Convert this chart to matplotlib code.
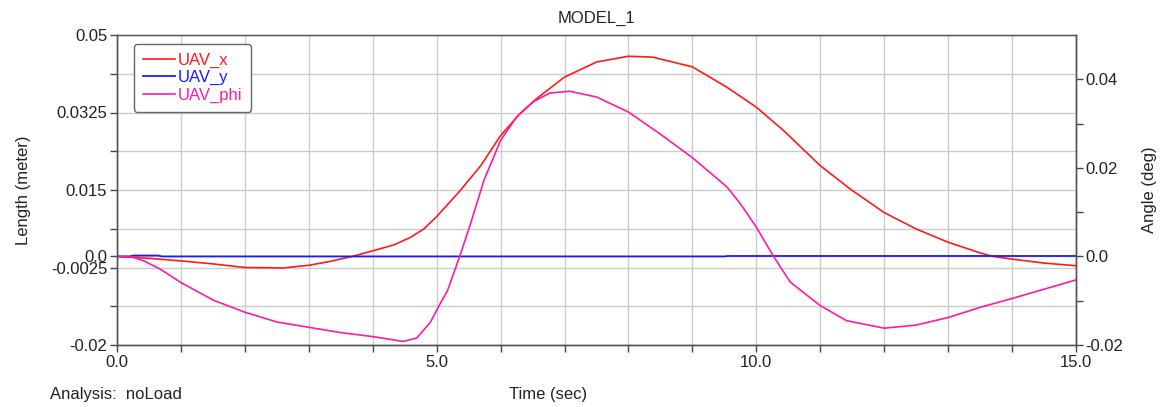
import matplotlib.pyplot as plt
from matplotlib.ticker import MultipleLocator, FixedLocator

plt.rcParams['font.family'] = ['Liberation Sans', 'DejaVu Sans']

# UAV_x (Length, meter)
t_x = [0.0, 0.52, 0.99, 1.51, 2.0, 2.6, 3.0, 3.34, 3.68, 4.01, 4.33, 4.59, 4.8, 5.0,
       5.37, 5.69, 6.0, 6.3, 6.56, 7.0, 7.5, 8.0, 8.38, 9.0, 9.54, 10.0, 10.42, 11.0,
       11.46, 12.0, 12.5, 13.0, 13.5, 13.7, 14.0, 14.5, 15.0]
uav_x = [0.0, -0.00045, -0.001, -0.0017, -0.0025, -0.0026, -0.002, -0.0011, 0.0, 0.0013,
         0.0026, 0.0043, 0.0062, 0.0090, 0.0149, 0.0205, 0.0273, 0.0322, 0.0356, 0.0405,
         0.0439, 0.0452, 0.0450, 0.0428, 0.0382, 0.0337, 0.0285, 0.0205, 0.0153, 0.0099,
         0.0062, 0.0032, 0.0008, 0.0, -0.0006, -0.0015, -0.0021]

# UAV_y (Length, meter)
t_y = [0.0, 0.2, 0.25, 0.65, 0.7, 9.5, 9.55, 15.0]
uav_y = [0.0, 0.0, 0.0002, 0.0002, 0.0, 0.0, 0.0001, 0.0001]

# UAV_phi (Angle, deg)
t_phi = [0.0, 0.21, 0.42, 0.68, 1.0, 1.51, 2.0, 2.5, 3.0, 3.5, 4.0, 4.48, 4.69, 4.9,
         5.08, 5.17, 5.36, 5.53, 5.74, 6.0, 6.25, 6.51, 6.77, 7.08, 7.5, 8.0, 8.49, 9.0,
         9.54, 9.75, 10.0, 10.27, 10.53, 11.0, 11.41, 12.0, 12.5, 13.0, 13.5, 14.0,
         14.5, 15.0]
uav_phi = [0.0, 0.0, -0.001, -0.0029, -0.0059, -0.0099, -0.0126, -0.0148, -0.016,
           -0.0172, -0.0181, -0.0192, -0.0184, -0.0149, -0.0100, -0.0077, 0.0, 0.0074,
           0.0172, 0.0262, 0.0315, 0.0349, 0.0369, 0.0373, 0.0360, 0.0326, 0.0277, 0.0223,
           0.0157, 0.0119, 0.0066, 0.0, -0.0058, -0.0111, -0.0145, -0.0162, -0.0155,
           -0.0138, -0.0115, -0.0095, -0.0074, -0.0053]

left_major = [-0.02, -0.0025, 0.015, 0.0325, 0.05]
left_extra = [0.0]
left_minor = [-0.01125, 0.00625, 0.02375, 0.04125]
right_major = [-0.02, 0.0, 0.02, 0.04]
right_minor = [-0.01, 0.01, 0.03]

red = '#ff1a1a'
blue = '#1a1aff'
pink = '#ff1aa8'
fs = 12

fig = plt.figure(figsize=(11.64, 4.07), dpi=100)
ax = fig.add_axes([117/1164, 62/407, 959/1164, 310/407])
ax2 = ax.twinx()

l1, = ax.plot(t_x, uav_x, color=red, lw=1.2, solid_joinstyle='round')
l2, = ax.plot(t_y, uav_y, color=blue, lw=1.3)
l3, = ax2.plot(t_phi, uav_phi, color=pink, lw=1.2, solid_joinstyle='round')

ax.set_xlim(0, 15)
ax.set_ylim(-0.02, 0.05)
ax2.set_ylim(-0.02, 0.05)

ax.xaxis.set_major_locator(FixedLocator([0, 5, 10, 15]))
ax.xaxis.set_minor_locator(MultipleLocator(1))
ax.set_xticklabels(['0.0', '5.0', '10.0', '15.0'])

ax.yaxis.set_major_locator(FixedLocator(left_major + left_extra))
ax.set_yticklabels(['-0.02', '-0.0025', '0.015', '0.0325', '0.05', '0.0'])
ax.yaxis.set_minor_locator(FixedLocator(left_minor))

ax2.yaxis.set_major_locator(FixedLocator(right_major))
ax2.set_yticklabels(['-0.02', '0.0', '0.02', '0.04'])
ax2.yaxis.set_minor_locator(FixedLocator(right_minor))

for a in (ax, ax2):
    a.tick_params(which='both', direction='out', length=5, width=1, colors='#444444',
                  labelcolor='#222222', labelsize=fs, pad=2)
    for s in a.spines.values():
        s.set_color('#555555')
        s.set_linewidth(1)
ax.spines['top'].set_color('#bbbbbb')

ax.grid(True, which='both', color='#cccccc', lw=1)
ax.set_axisbelow(True)

ax.set_title('MODEL_1', fontsize=fs, color='#222222', pad=9)
ax.set_ylabel('Length (meter)', fontsize=fs, color='#222222', labelpad=14)
ax2.set_ylabel('Angle (deg)', fontsize=fs, color='#222222', labelpad=13)
fig.text(548/1164, 1 - 395/407, 'Time (sec)', ha='center', va='center',
         fontsize=fs, color='#222222')
fig.text(50/1164, 1 - 395/407, 'Analysis:  noLoad', ha='left', va='center',
         fontsize=fs, color='#222222')

leg = ax2.legend([l1, l2, l3], ['UAV_x', 'UAV_y', 'UAV_phi'], loc='upper left',
                 bbox_to_anchor=(0.0177, 0.971), borderaxespad=0, fontsize=fs,
                 handlelength=1.9, handletextpad=0.15, labelspacing=0.12,
                 borderpad=0.55, frameon=True, fancybox=True, framealpha=1,
                 edgecolor='#666666')
for txt, c in zip(leg.get_texts(), [red, blue, pink]):
    txt.set_color(c)

fig.savefig('out.png', dpi=100)
